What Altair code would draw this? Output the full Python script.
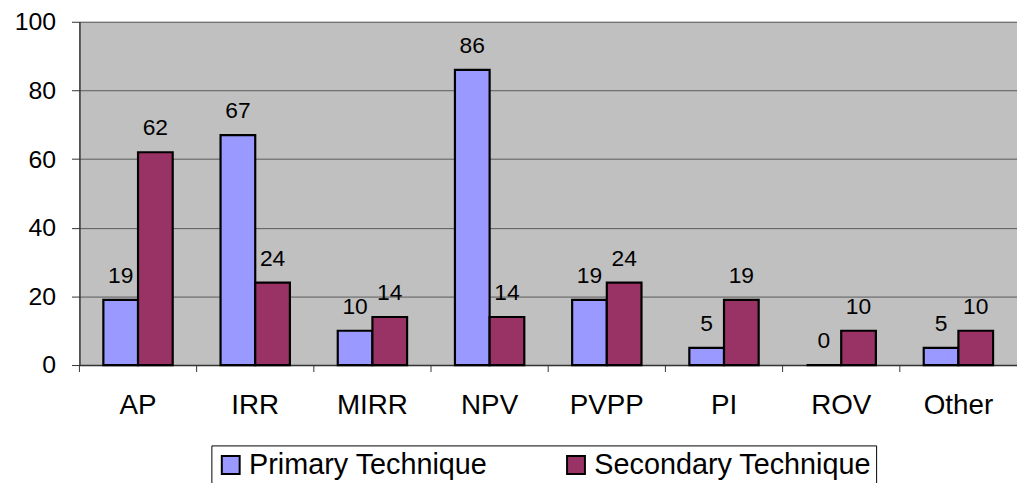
import altair as alt
import pandas as pd

categories = ["AP", "IRR", "MIRR", "NPV", "PVPP", "PI", "ROV", "Other"]
primary = [19, 67, 10, 86, 19, 5, 0, 5]
secondary = [62, 24, 14, 14, 24, 19, 10, 10]
series = ["Primary Technique", "Secondary Technique"]
colors = ["#9999FF", "#993366"]

rows = []
for c, p, s in zip(categories, primary, secondary):
    rows.append({"cat": c, "series": series[0], "value": p})
    rows.append({"cat": c, "series": series[1], "value": s})
df = pd.DataFrame(rows)
cat_df = pd.DataFrame({"cat": categories})

FONT = "Liberation Sans"

x_enc = alt.X(
    "cat:N",
    sort=categories,
    scale=alt.Scale(paddingInner=0, paddingOuter=0),
    axis=alt.Axis(
        title=None,
        labelAngle=0,
        labelFontSize=28,
        labelFont=FONT,
        labelColor="black",
        ticks=False,
        tickSize=0,
        labelPadding=27,
        domainColor="#333333",
        domainWidth=1.5,
        grid=False,
    ),
)
xoff = alt.XOffset(
    "series:N",
    sort=series,
    scale=alt.Scale(paddingInner=0, paddingOuter=0.69),
)
y_enc = alt.Y(
    "value:Q",
    scale=alt.Scale(domain=[0, 100], nice=False),
    axis=alt.Axis(
        title=None,
        values=[0, 20, 40, 60, 80, 100],
        labelFontSize=25,
        labelFont=FONT,
        labelColor="black",
        labelPadding=16,
        tickSize=8,
        tickColor="#333333",
        domainColor="#333333",
        domainWidth=1.5,
        grid=True,
        gridColor="#5a5a5a",
        gridWidth=1,
        gridOpacity=1,
    ),
)

bars = alt.Chart(df).mark_bar(stroke="black", strokeWidth=2.2).encode(
    x=x_enc,
    xOffset=xoff,
    y=y_enc,
    color=alt.Color(
        "series:N",
        sort=series,
        scale=alt.Scale(domain=series, range=colors),
        title=None,
        legend=alt.Legend(
            orient="none",
            legendX=133,
            legendY=427,
            direction="horizontal",
            strokeColor="black",
            padding=5,
            symbolType="square",
            symbolSize=324,
            symbolStrokeColor="black",
            symbolStrokeWidth=2,
            symbolOpacity=1,
            labelFontSize=29,
            labelFont=FONT,
            labelColor="black",
            labelOffset=4,
            labelLimit=500,
            columnPadding=74,
        ),
    ),
)

labels = alt.Chart(df).mark_text(
    fontSize=23, font=FONT, color="black", baseline="alphabetic", dy=-17
).encode(
    x=alt.X("cat:N", sort=categories),
    xOffset=alt.XOffset("series:N", sort=series),
    y=alt.Y("value:Q"),
    text=alt.Text("value:Q"),
)

ticks = alt.Chart(cat_df).mark_rule(color="#333333", strokeWidth=1).encode(
    x=alt.X("cat:N", sort=categories, bandPosition=0),
    y=alt.value(346),
    y2=alt.value(353),
)

chart = (
    alt.layer(bars, labels, ticks)
    .properties(
        width=945,
        height=346,
        autosize=alt.AutoSizeParams(type="none"),
        padding={"left": 72, "top": 12, "right": 0, "bottom": 117},
        background="white",
    )
    .configure_view(fill="#C0C0C0", strokeWidth=0)
)

chart.save("out.html", embed_options={"renderer": "svg", "actions": False})
